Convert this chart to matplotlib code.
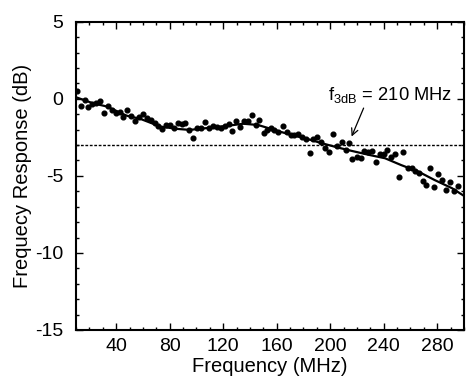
import numpy as np
import matplotlib
matplotlib.use("Agg")
import matplotlib.pyplot as plt
from matplotlib.ticker import MultipleLocator

plt.rcParams["font.family"] = ["Liberation Sans", "DejaVu Sans"]
plt.rcParams["mathtext.fontset"] = "custom"
plt.rcParams["mathtext.rm"] = "Liberation Sans"
plt.rcParams["mathtext.it"] = "Liberation Sans:italic"
plt.rcParams["axes.unicode_minus"] = False

# measured points (MHz, dB)
freq_meas = [10.5, 13.5, 16.7, 19.2, 22.2, 25.2, 28.2, 30.9, 34.1, 36.9,
             39.9, 42.7, 45.4, 48.3, 50.9, 53.9, 56.8, 59.8, 62.8, 65.8,
             68.8, 71.5, 74.5, 77.3, 80.3, 83.2, 86.2, 89.0, 91.7, 94.7,
             97.4, 100.2, 103.2, 106.3, 109.4, 112.4, 115.4, 118.4, 121.4, 124.1,
             126.4, 129.4, 132.4, 135.4, 138.4, 141.4, 144.4, 147.1, 150.4, 153.0,
             155.8, 158.2, 161.2, 164.5, 167.5, 170.7, 173.2, 176.2, 179.2, 181.7,
             184.7, 187.4, 190.4, 193.4, 196.4, 199.3, 202.3, 205.0, 208.5, 211.8,
             213.8, 216.5, 219.8, 222.8, 225.5, 228.5, 231.5, 234.5, 237.5, 240.2,
             242.7, 245.4, 248.4, 251.6, 254.6, 257.9, 260.9, 263.6, 266.6, 269.6,
             271.6, 274.6, 277.3, 280.3, 283.3, 286.5, 289.5, 292.7, 295.7]
resp_meas = [0.51, -0.45, -0.08, -0.51, -0.34, -0.29, -0.14, -0.94, -0.47, -0.73,
             -0.90, -0.88, -1.20, -0.75, -1.11, -1.44, -1.18, -1.00, -1.27, -1.36,
             -1.55, -1.74, -1.96, -1.70, -1.72, -1.91, -1.55, -1.61, -1.59, -2.02,
             -2.56, -1.91, -1.91, -1.50, -1.87, -1.74, -1.83, -1.87, -1.74, -1.61,
             -2.09, -1.42, -1.83, -1.44, -1.44, -1.05, -1.70, -1.37, -2.20, -2.00,
             -1.87, -2.02, -2.15, -1.78, -2.13, -2.35, -2.35, -2.30, -2.48, -2.63,
             -3.50, -2.61, -2.46, -2.82, -3.21, -3.45, -2.30, -3.04, -2.78, -3.32,
             -2.89, -3.92, -3.77, -3.82, -3.39, -3.47, -3.37, -4.08, -3.60, -3.60,
             -3.32, -3.75, -3.56, -5.07, -3.43, -4.47, -4.47, -4.66, -4.81, -5.33,
             -5.59, -4.47, -5.72, -4.90, -5.27, -5.90, -5.38, -5.96, -5.68]

# smooth fit curve
freq_fit = [10, 23, 33, 48, 58, 73, 85, 95, 110, 121, 135, 146, 156, 169,
            181, 194, 206, 216, 229, 241, 253, 266, 278, 291, 300]
resp_fit = [0.1, -0.3, -0.5, -1.1, -1.3, -1.8, -1.95, -2.02, -1.88, -1.78, -1.62, -1.7, -1.96, -2.3,
            -2.56, -2.89, -3.17, -3.38, -3.64, -3.86, -4.3, -4.73, -5.27, -5.8, -6.3]

level_3db = -3
f_3db = 210

fig = plt.figure(figsize=(4.74, 3.88), dpi=100)
ax = fig.add_axes([0.1603, 0.1495, 0.8186, 0.7946])

ax.plot(freq_meas, resp_meas, "o", color="black", markersize=3.4, zorder=3)
ax.plot(freq_fit, resp_fit, "-", color="black", linewidth=1.6, zorder=2)
ax.axhline(level_3db, color="black", linewidth=1.0, linestyle=(0, (2, 1.2)))

ax.annotate(r"f$_{\mathrm{3dB}}$ = " + str(f_3db) + " MHz",
            xy=(216, -2.45), xytext=(198, -0.1),
            fontsize=13.2, ha="left", va="baseline",
            arrowprops=dict(arrowstyle="->", color="black", lw=0.9,
                            shrinkA=0, shrinkB=0, mutation_scale=12,
                            relpos=(0.3, 0)))

ax.set_xlim(10, 300)
ax.set_ylim(-15, 5)
ax.xaxis.set_minor_locator(MultipleLocator(10))
ax.set_xticks([40, 80, 120, 160, 200, 240, 280])
ax.yaxis.set_major_locator(MultipleLocator(5))
ax.yaxis.set_minor_locator(MultipleLocator(1))

ax.tick_params(which="both", direction="in", top=True, right=True, width=1)
ax.tick_params(which="major", length=5, labelsize=14)
ax.tick_params(which="minor", length=2.5)
ax.tick_params(axis="y", pad=9)
ax.tick_params(axis="x", pad=6)
for s in ax.spines.values():
    s.set_linewidth(1.5)

ax.set_xlabel("Frequency (MHz)", fontsize=14.5, labelpad=1)
ax.set_ylabel("Frequecy Response (dB)", fontsize=14.5, labelpad=2)

fig.savefig("out.png", dpi=100)
